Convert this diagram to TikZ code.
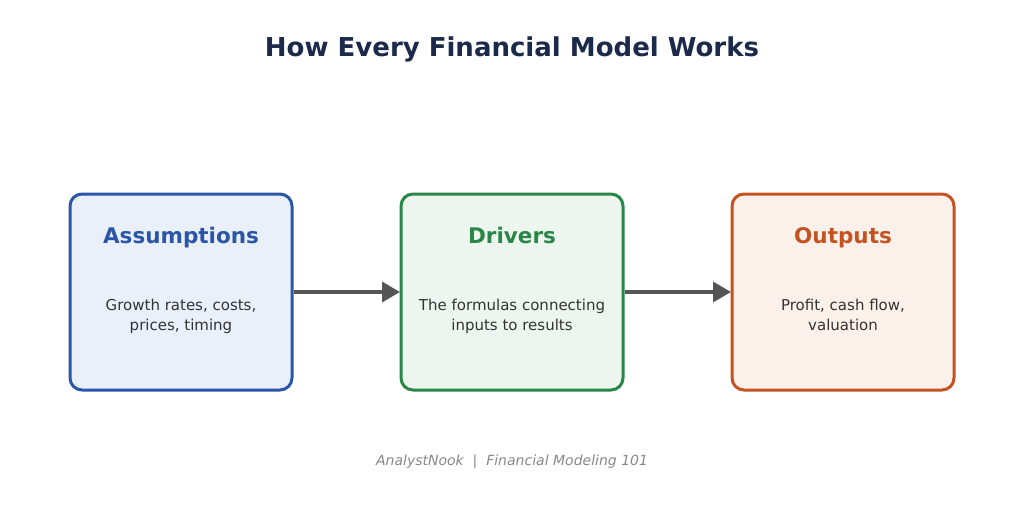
\documentclass[tikz,border=0pt]{standalone}
\usepackage{fontspec}
\setmainfont{DejaVu Sans}
\usetikzlibrary{positioning,arrows.meta}
\definecolor{titleblue}{HTML}{1B2A4A}
\definecolor{asmblue}{HTML}{2B55A6}
\definecolor{asmfill}{HTML}{EAF0FA}
\definecolor{drvgreen}{HTML}{2A8548}
\definecolor{drvfill}{HTML}{EDF6EE}
\definecolor{outorange}{HTML}{C4531F}
\definecolor{outfill}{HTML}{FCF1EA}
\definecolor{arrowgray}{HTML}{555555}
\definecolor{bodygray}{HTML}{333333}
\definecolor{footgray}{HTML}{888888}
\tikzset{
  stage/.style={draw, line width=3pt, rounded corners=12pt, minimum width=222pt, minimum height=196pt, outer sep=0pt},
  head/.style={font=\fontsize{21.5}{25}\selectfont\bfseries, text height=16pt, text depth=5pt},
  body/.style={font=\fontsize{15}{20.5}\selectfont, text=bodygray, align=center, text height=11pt, text depth=4pt},
  flow/.style={draw=arrowgray, line width=3.5pt, -{Triangle[length=18pt,width=20pt]}}
}
\begin{document}
\begin{tikzpicture}[x=1pt,y=-1pt]
\useasboundingbox (0,0) rectangle (1024,507);

\node[font=\fontsize{26}{31}\selectfont\bfseries, text=titleblue] (title) at (512,49) {How Every Financial Model Works};

% the three stages
\node[stage, draw=asmblue, fill=asmfill] (asm) at (181,292) {};
\node[stage, draw=drvgreen, fill=drvfill] (drv) at (512,292) {};
\node[stage, draw=outorange, fill=outfill] (out) at (843,292) {};

\node[head, text=asmblue] (asmhead) at ([yshift=54pt]asm.center) {Assumptions};
\node[head, text=drvgreen] (drvhead) at ([yshift=54pt]drv.center) {Drivers};
\node[head, text=outorange] (outhead) at ([yshift=54pt]out.center) {Outputs};

\node[body] (asmbody) at ([yshift=-35pt]asm.center) {Growth rates, costs,\\prices, timing};
\node[body] (drvbody) at ([yshift=-35pt]drv.center) {The formulas connecting\\inputs to results};
\node[body] (outbody) at ([yshift=-35pt]out.center) {Profit, cash flow,\\valuation};

\draw[flow] ([xshift=1.5pt]asm.east) -- ([xshift=-1pt]drv.west);
\draw[flow] ([xshift=1.5pt]drv.east) -- ([xshift=-1pt]out.west);

\node[font=\fontsize{14}{17}\selectfont\itshape, text=footgray] (foot) at (512,462) {AnalystNook \ | \ Financial Modeling 101};
\end{tikzpicture}
\end{document}
